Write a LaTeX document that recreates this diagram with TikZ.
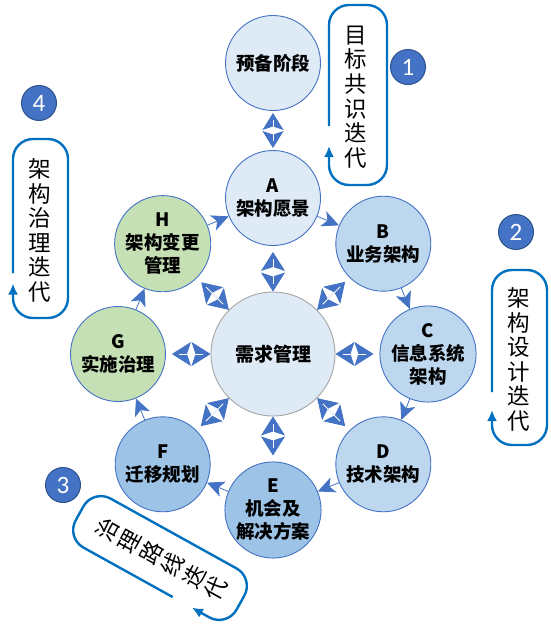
\documentclass[tikz,border=0pt]{standalone}
\usepackage{fontspec}
\setmainfont{Noto Sans CJK SC}
\newfontfamily\numfont{Carlito}
\usetikzlibrary{arrows.meta}
\definecolor{bord}{HTML}{4472C4}
\definecolor{fillA}{HTML}{DEEBF7}
\definecolor{fillB}{HTML}{BDD7EE}
\definecolor{fillE}{HTML}{9DC3E6}
\definecolor{fillG}{HTML}{C5E0B4}
\definecolor{boxc}{HTML}{0070C0}
\definecolor{numbord}{HTML}{2F528F}
\definecolor{cgray}{HTML}{A5A5A5}
\begin{document}
\begin{tikzpicture}[x=1pt,y=-1pt,
  phase/.style={circle, draw=bord, line width=0.9pt, minimum size=95pt, inner sep=0pt,
    align=center, font=\bfseries\fontsize{18.5}{23}\selectfont},
  hub/.style={circle, draw=cgray, line width=0.9pt, fill=fillA, minimum size=124pt, inner sep=0pt,
    font=\bfseries\fontsize{19}{23}\selectfont},
  ringarrow/.style={draw=bord, line width=0.8pt, -{Stealth[length=17pt,width=16pt,inset=4.5pt]}},
  dblarrow/.style={draw=bord, line width=0.8pt,
    {Stealth[length=19pt,width=24pt,inset=4pt]}-{Stealth[length=19pt,width=24pt,inset=4pt]}},
  prearrow/.style={draw=bord, line width=0.8pt,
    {Stealth[length=17pt,width=21pt,inset=3.5pt]}-{Stealth[length=17pt,width=21pt,inset=3.5pt]}},
  midline/.style={draw=white, line width=1pt},
  boxline/.style={draw=boxc, line width=2.4pt, rounded corners=20pt, -{Latex[length=11pt,width=10pt]}},
  vtext/.style={align=center, inner sep=0pt, font=\fontsize{22.5}{24.6}\selectfont},
  numc/.style={circle, fill=bord, draw=numbord, line width=1pt, minimum size=35pt, inner sep=0pt,
    text=white, font=\numfont\fontsize{25}{25}\selectfont}
]
\useasboundingbox (0,0) rectangle (550,632);

% phase circles
\node[phase, fill=fillA] (pre) at (273,63) {预备阶段};
\node[phase, fill=fillA] (A) at (273,198) {A\\架构愿景};
\node[phase, fill=fillB] (B) at (383.3,243.7) {B\\业务架构};
\node[phase, fill=fillB] (C) at (428,354) {C\\信息系统\\架构};
\node[phase, fill=fillB] (D) at (383.3,464.3) {D\\技术架构};
\node[phase, fill=fillE] (E) at (273,510) {E\\机会及\\解决方案};
\node[phase, fill=fillE] (F) at (162.7,464.3) {F\\迁移规划};
\node[phase, fill=fillG] (G) at (118,354) {G\\实施治理};
\node[phase, fill=fillG] (H) at (162.7,243.7) {H\\架构变更\\管理};
\node[hub] (cm) at (273,354) {需求管理};

% ring arrows
\foreach \s/\t in {A/B, B/C, C/D, D/E, E/F, F/G, G/H, H/A}
  \draw[ringarrow] (\s) -- (\t);

% double arrows to the hub
\foreach \n in {A, B, C, D, E, F, G, H} {
  \draw[dblarrow, shorten <=6pt] (\n) -- (cm);
  \draw[midline, shorten <=13pt, shorten >=8pt] (\n) -- (cm);
}
\draw[prearrow, shorten <=2pt, shorten >=2pt] (pre) -- (A);
\draw[midline, shorten <=9pt, shorten >=9pt] (pre) -- (A);

% iteration boxes
\begin{scope}[shift={(358,95)}]
  \draw[boxline] (-29,31) -- (-29,-90) -- (29,-90) -- (29,90) -- (-29,90) -- (-29,51);
  \node[vtext] (t1) at (-2,2) {目\\标\\共\\识\\迭\\代};
\end{scope}
\begin{scope}[shift={(519.5,357.5)}]
  \draw[boxline] (-27.5,34.5) -- (-27.5,-87.5) -- (27.5,-87.5) -- (27.5,87.5) -- (-27.5,87.5) -- (-27.5,52.5);
  \node[vtext] (t2) at (-1,2) {架\\构\\设\\计\\迭\\代};
\end{scope}
\begin{scope}[shift={(160,558)}, rotate=61]
  \draw[boxline] (-28,30) -- (-28,-92) -- (28,-92) -- (28,92) -- (-28,92) -- (-28,52);
  \node[vtext, rotate=61] (t3) at (0,2) {治\\理\\路\\线\\迭\\代};
\end{scope}
\begin{scope}[shift={(40.5,228.5)}]
  \draw[boxline] (-27.5,44.5) -- (-27.5,-89.5) -- (27.5,-89.5) -- (27.5,89.5) -- (-27.5,89.5) -- (-27.5,55);
  \node[vtext] (t4) at (-1,2) {架\\构\\治\\理\\迭\\代};
\end{scope}

% numbers
\node[numc] (n1) at (408,67) {1};
\node[numc] (n2) at (516,232) {2};
\node[numc] (n3) at (63,485) {3};
\node[numc] (n4) at (39,103) {4};
\end{tikzpicture}
\end{document}
